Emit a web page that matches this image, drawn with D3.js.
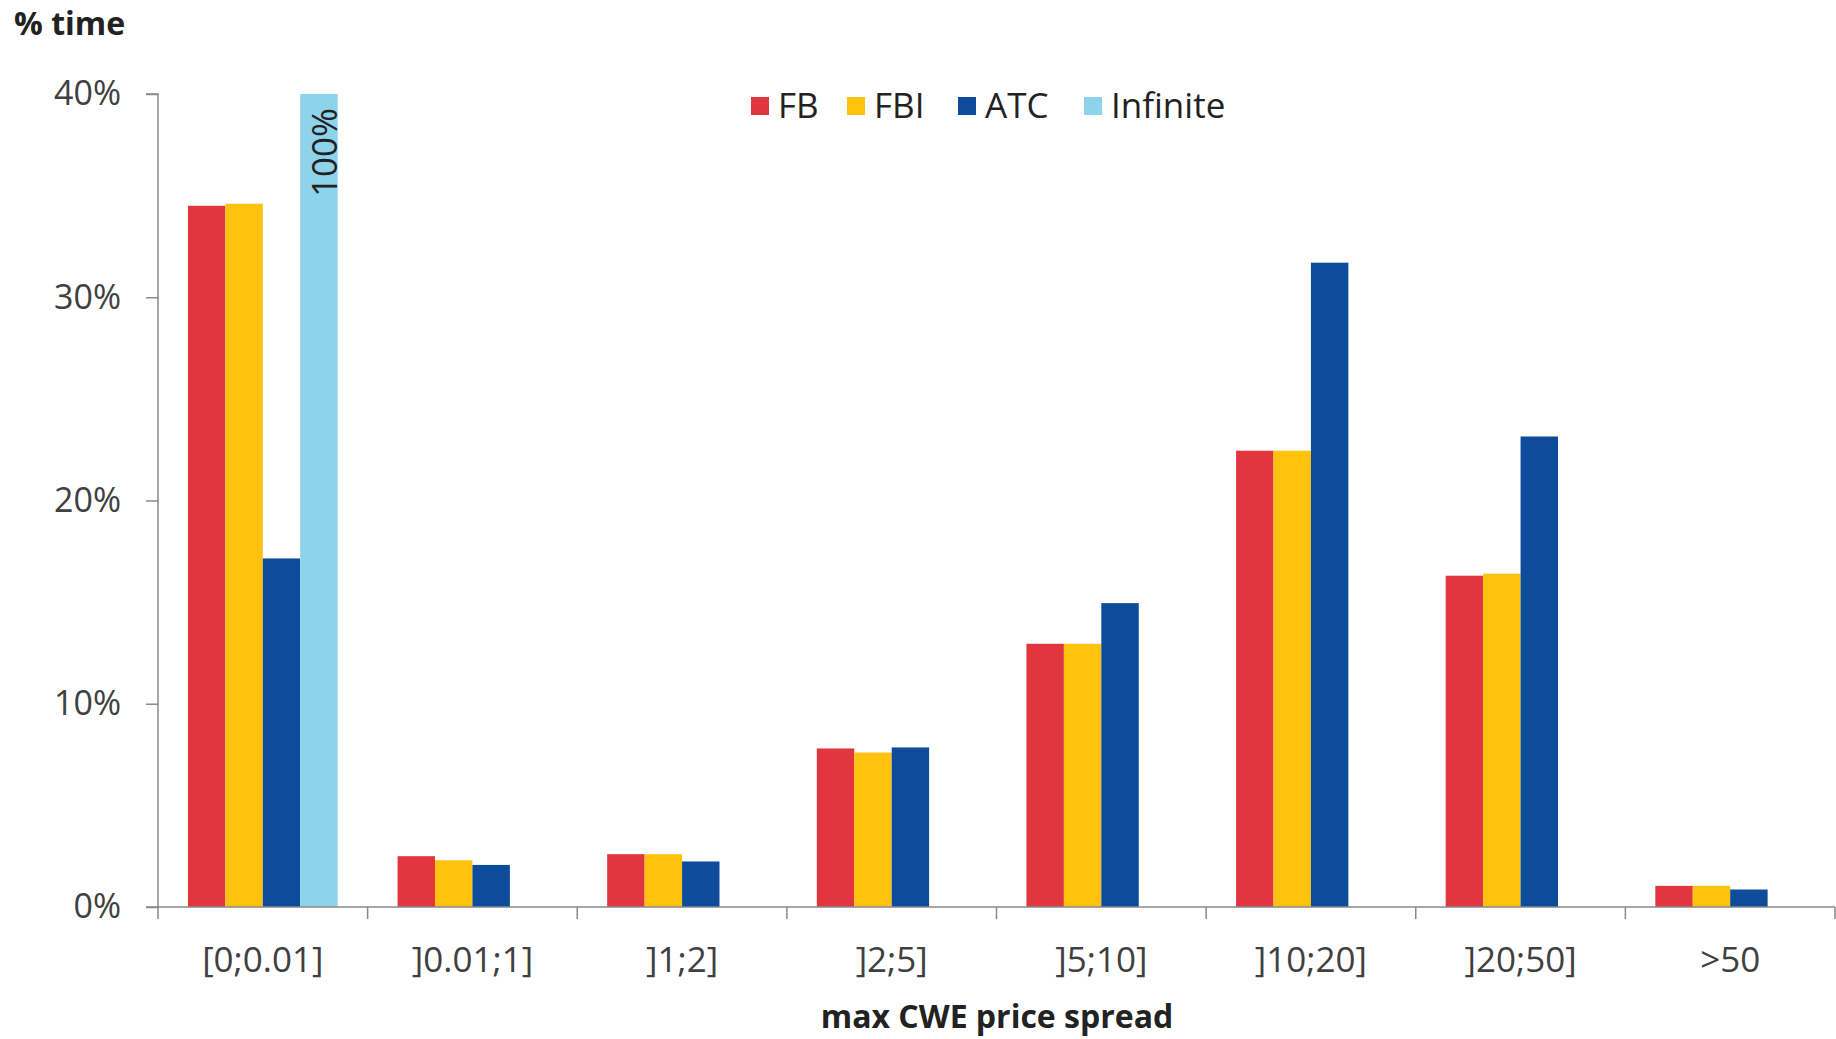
<!DOCTYPE html>
<html><head><meta charset="utf-8">
<script src="https://cdn.jsdelivr.net/npm/d3@7"></script>
<style>
html,body{margin:0;padding:0;background:#fff;}
svg{display:block;}
text{font-family:"Open Sans",sans-serif;}
</style></head>
<body>
<svg id="chart" width="1836" height="1039"></svg>
<script>
const categories = ["[0;0.01]", "]0.01;1]", "]1;2]", "]2;5]", "]5;10]", "]10;20]", "]20;50]", ">50"];
const seriesNames = ["FB", "FBI", "ATC", "Infinite"];
const seriesColors = ["#E2363F", "#FFC20E", "#0D4C9B", "#8ED3EC"];
const FB = [34.5, 2.5, 2.6, 7.8, 12.95, 22.45, 16.3, 1.04];
const FBI = [34.6, 2.3, 2.6, 7.6, 12.95, 22.45, 16.4, 1.04];
const ATC = [17.15, 2.07, 2.24, 7.85, 14.95, 31.7, 23.15, 0.86];
const Infinite = [100, null, null, null, null, null, null, null];
const yTicks = [0, 10, 20, 30, 40];
const infiniteLabel = "100%";

const seriesValues = [FB, FBI, ATC, Infinite];

const svg = d3.select("#chart");
const x0 = 158, x1 = 1835, yTop = 94, yZero = 907;

const x = d3.scaleBand().domain(categories).range([x0, x1]).paddingInner(0).paddingOuter(0);
const xs = d3.scaleBand().domain(seriesNames).range([0, x.bandwidth()]).paddingOuter(0.8).paddingInner(0);
const y = d3.scaleLinear().domain([0, 40]).range([yZero, yTop]).clamp(true);

// bars
const g = svg.append("g");
seriesNames.forEach((s, si) => {
  g.selectAll(".b" + si).data(categories.map((c, i) => ({c, v: seriesValues[si][i]})).filter(d => d.v != null))
    .enter().append("rect")
    .attr("x", d => x(d.c) + xs(s))
    .attr("width", xs.bandwidth())
    .attr("y", d => y(d.v))
    .attr("height", d => yZero - y(d.v))
    .attr("fill", seriesColors[si]);
});

// infinite label
const infIdx = Infinite.findIndex(v => v != null);
svg.append("text")
  .attr("transform", `translate(${x(categories[infIdx]) + xs("Infinite") + xs.bandwidth()/2 + 18},${y(40) + 14}) rotate(-90)`)
  .attr("text-anchor", "end")
  .attr("font-size", 35)
  .attr("fill", "#222")
  .text(infiniteLabel);

// y axis
const yAxis = d3.axisLeft(y).tickValues(yTicks).tickFormat(d => d + "%").tickSize(12).tickPadding(25);
const ya = svg.append("g").attr("transform", `translate(${x0},0)`).call(yAxis);
ya.select(".domain").attr("stroke", "#8a8a8a").attr("stroke-width", 1.5).attr("d", `M-12,${yTop}H0V${yZero}`);
ya.selectAll(".tick line").attr("stroke", "#8a8a8a").attr("stroke-width", 1.5);
ya.selectAll(".tick text").attr("font-size", 34).attr("fill", "#404040").attr("font-family", "Open Sans");

// x axis
const xAxis = d3.axisBottom(x).tickSize(0).tickPadding(40);
const xa = svg.append("g").attr("transform", `translate(0,${yZero})`).call(xAxis);
xa.select(".domain").attr("stroke", "#8a8a8a").attr("stroke-width", 1.5).attr("d", `M${x0 - 12},0H${x1}`);
xa.selectAll(".tick text").attr("font-size", 35).attr("fill", "#404040").attr("font-family", "Open Sans");
// x boundary ticks
const bounds = categories.map(c => x(c)).concat([x1]);
svg.append("g").selectAll("line").data(bounds).enter().append("line")
  .attr("x1", d => d).attr("x2", d => d).attr("y1", yZero).attr("y2", yZero + 12)
  .attr("stroke", "#8a8a8a").attr("stroke-width", 1.5);

// titles
svg.append("text").attr("x", 14).attr("y", 35).attr("font-size", 32).attr("font-weight", "bold").attr("fill", "#222").text("% time");
svg.append("text").attr("x", 997).attr("y", 1028).attr("text-anchor", "middle").attr("font-size", 32).attr("font-weight", "bold").attr("fill", "#222").text("max CWE price spread");

// legend
const legendX = [751, 847, 958, 1084];
const lg = svg.append("g");
seriesNames.forEach((s, i) => {
  lg.append("rect").attr("x", legendX[i]).attr("y", 97).attr("width", 18).attr("height", 18).attr("fill", seriesColors[i]);
  lg.append("text").attr("x", legendX[i] + 27).attr("y", 118).attr("font-size", 35).attr("fill", "#222").text(s);
});
</script>
</body></html>
